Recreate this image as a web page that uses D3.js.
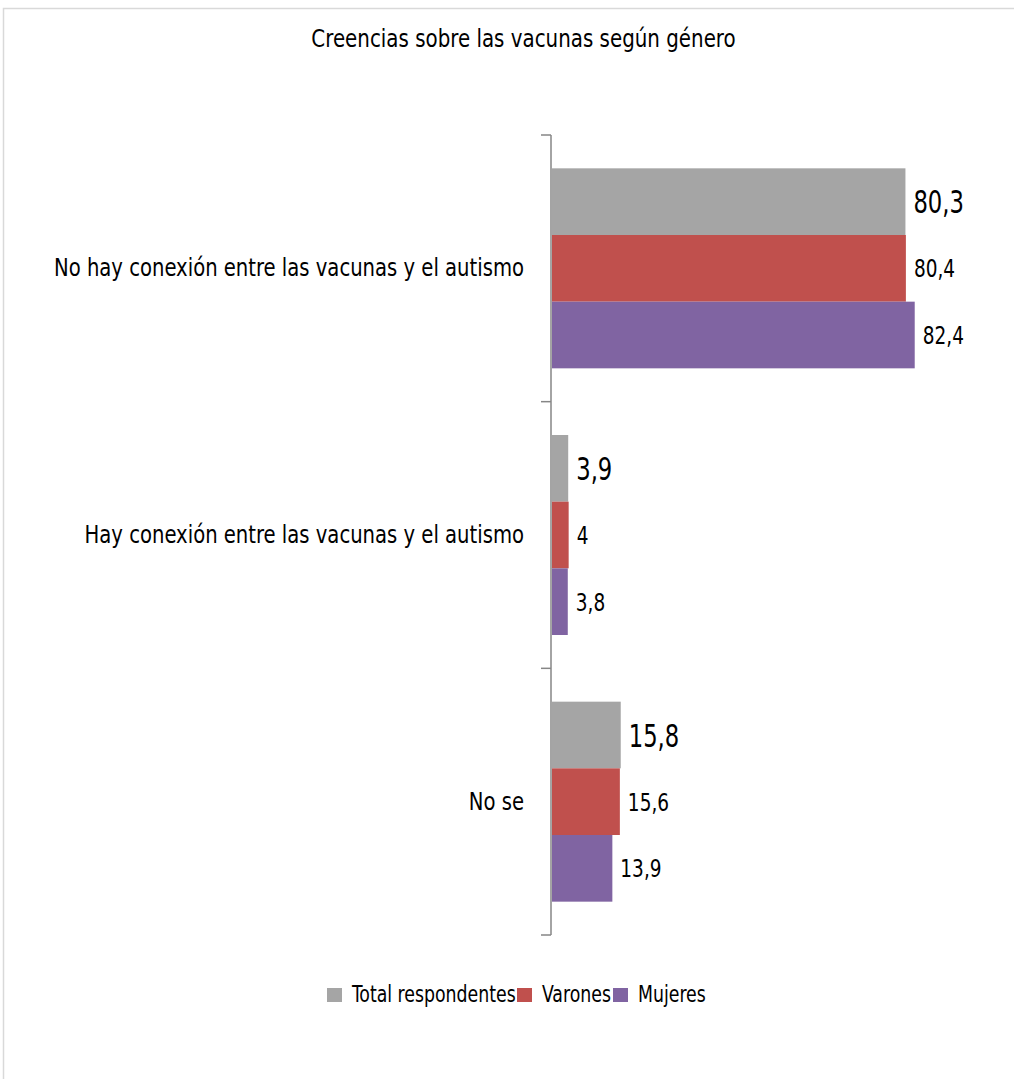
<!DOCTYPE html>
<html><head><meta charset="utf-8">
<script src="https://cdn.jsdelivr.net/npm/d3@7"></script>
<style>
body{margin:0;background:#fff;}
text{font-family:"DejaVu Sans Condensed","DejaVu Sans",sans-serif;font-stretch:condensed;fill:#000;}
</style></head><body>
<svg id="c" width="1014" height="1079"></svg>
<script>
const title = "Creencias sobre las vacunas según género";
const categories = ["No hay conexión entre las vacunas y el autismo","Hay conexión entre las vacunas y el autismo","No se"];
const seriesNames = ["Total respondentes","Varones","Mujeres"];
const total = [80.3, 3.9, 15.8];
const varones = [80.4, 4, 15.6];
const mujeres = [82.4, 3.8, 13.9];
const colors = ["#A5A5A5","#C0504D","#8064A2"];

const svg = d3.select("#c");
svg.append("rect").attr("x",3.5).attr("y",8.5).attr("width",1020).attr("height",1080)
  .attr("fill","#fff").attr("stroke","#D9D9D9").attr("stroke-width",1.5);

// text helper with horizontal condensing (emulates a narrow display face)
function ctext(sel, x, y, sx, size, anchor){
  return sel.attr("transform",`translate(${x},${y}) scale(${sx},1)`)
    .attr("text-anchor",anchor||"start").style("font-size",size+"px");
}

ctext(svg.append("text"),523.5,47,0.92,24,"middle").text(title);

const x = d3.scaleLinear().domain([0,100]).range([551,992.4]);
const yOuter = d3.scaleBand().domain(categories).range([135,935]);
const y = d3.scaleBand().domain(categories).range([135,935]).paddingInner(0.25).paddingOuter(0.125);
const ys = d3.scaleBand().domain(seriesNames).range([0,y.bandwidth()]);

const data = [total,varones,mujeres];
const axisG = svg.append("g");
axisG.append("line").attr("x1",551).attr("x2",551).attr("y1",135).attr("y2",935).attr("stroke","#868686").attr("stroke-width",1.5);
const tickYs = categories.map(c=>yOuter(c)).concat([yOuter.range()[1]]);
axisG.selectAll("line.t").data(tickYs).join("line").attr("class","t")
  .attr("x1",541).attr("x2",551).attr("y1",d=>d).attr("y2",d=>d).attr("stroke","#868686").attr("stroke-width",1.5);

svg.selectAll("text.cat").data(categories).join("text").attr("class","cat")
  .each(function(c){ ctext(d3.select(this),524,yOuter(c)+yOuter.bandwidth()/2+8,0.89,24.5,"end"); })
  .text(d=>d);

seriesNames.forEach((s,si)=>{
  const g = svg.append("g");
  g.selectAll("rect").data(categories).join("rect")
    .attr("x",x(0)+1).attr("y",(c)=>y(c)+ys(s))
    .attr("width",(c,i)=>x(data[si][i])-x(0)-1).attr("height",ys.bandwidth())
    .attr("fill",colors[si]);
  g.selectAll("text").data(categories).join("text")
    .each(function(c,i){
      const big = si===0;
      ctext(d3.select(this), x(data[si][i])+8, y(c)+ys(s)+ys.bandwidth()/2 + (big?11.5:9), big?0.8:0.84, big?31.5:24.5);
    })
    .text((c,i)=>String(data[si][i]).replace(".",","));
});

const legendX = [327,517,613];
const lg = svg.append("g");
seriesNames.forEach((s,i)=>{
  lg.append("rect").attr("x",legendX[i]).attr("y",988).attr("width",15).attr("height",14).attr("fill",colors[i]);
  ctext(lg.append("text"),legendX[i]+25,1002,0.82,23.5).text(s);
});
</script></body></html>
